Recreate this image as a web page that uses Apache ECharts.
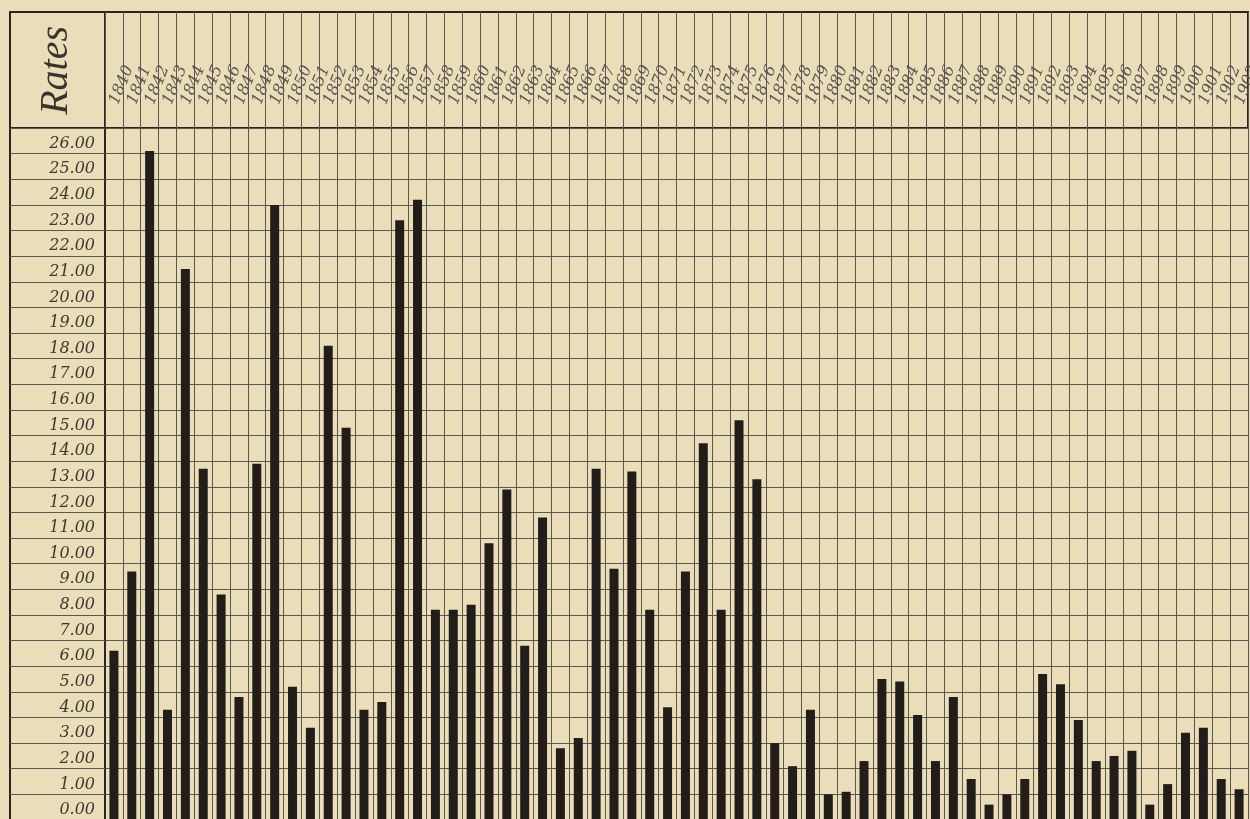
<!DOCTYPE html>
<html>
<head>
<meta charset="utf-8">
<script src="https://cdn.jsdelivr.net/npm/echarts@6/dist/echarts.min.js"></script>
<style>
  html, body { margin: 0; padding: 0; background: #e9deb9; }
  #chart { width: 1250px; height: 819px; }
</style>
</head>
<body>
<div id="chart"></div>
<script>
// years, one column each
const years = []
for (let y = 1840; y <= 1903; y++) years.push(String(y))

// rates
const rates = [
  6.6, 9.7, 26.1, 4.3, 21.5, 13.7, 8.8, 4.8, 13.9, 24.0,
  5.2, 3.6, 18.5, 15.3, 4.3, 4.6, 23.4, 24.2, 8.2, 8.2,
  8.4, 10.8, 12.9, 6.8, 11.8, 2.8, 3.2, 13.7, 9.8, 13.6,
  8.2, 4.4, 9.7, 14.7, 8.2, 15.6, 13.3, 3.0, 2.1, 4.3,
  1.0, 1.1, 2.3, 5.5, 5.4, 4.1, 2.3, 4.8, 1.6, 0.6,
  1.0, 1.6, 5.7, 5.3, 3.9, 2.3, 2.5, 2.7, 0.6, 1.4,
  3.4, 3.6, 1.6, 1.2
]

const rateMax = 27

const ink = '#2a2520'
const gridInk = '#5b574f'
const hand = '"DejaVu Serif", "Liberation Serif", serif'

let chart = echarts.init(document.getElementById('chart'))
chart.setOption({
  backgroundColor: '#e9deb9',
  animation: false,
  grid: [
    // main plot
    { left: 105, right: 2, top: 128, height: 692, outerBoundsMode: 'none' },
    // header with the years
    { left: 105, right: 2, top: 12, height: 116, show: true, borderColor: ink, borderWidth: 2, outerBoundsMode: 'none' },
    // header over the rates column
    { left: 10, width: 95, top: 12, height: 116, show: true, borderColor: ink, borderWidth: 2, outerBoundsMode: 'none' }
  ],
  xAxis: [
    {
      type: 'category', gridIndex: 0, position: 'top', data: years,
      axisLine: { show: true, lineStyle: { color: ink, width: 2 } },
      axisTick: { show: false },
      axisLabel: {
        interval: 0, rotate: 68, margin: 24,
        fontFamily: hand, fontStyle: 'italic', fontSize: 16, color: '#5a554e'
      },
      splitLine: { show: true, interval: 0, lineStyle: { color: gridInk, width: 1 } }
    },
    {
      type: 'category', gridIndex: 1, data: years,
      axisLine: { show: false }, axisTick: { show: false }, axisLabel: { show: false },
      splitLine: { show: true, interval: 0, lineStyle: { color: gridInk, width: 1 } }
    },
    { type: 'value', gridIndex: 2, show: false }
  ],
  yAxis: [
    {
      type: 'value', gridIndex: 0, min: 0, max: rateMax, interval: 1,
      axisLine: { show: true, lineStyle: { color: ink, width: 2 } },
      axisTick: { show: true, length: 95, lineStyle: { color: gridInk, width: 1 } },
      axisLabel: {
        margin: 10, verticalAlign: 'bottom', padding: [0, 0, 2, 0],
        fontFamily: hand, fontStyle: 'italic', fontSize: 16, color: '#3d3832',
        formatter: v => v >= rateMax ? '' : v.toFixed(2)
      },
      splitLine: { show: true, lineStyle: { color: gridInk, width: 1 } }
    },
    {
      // outer left edge of the rates column
      type: 'value', gridIndex: 0, min: 0, max: rateMax, position: 'left', offset: 95,
      axisLine: { show: true, lineStyle: { color: ink, width: 2 } },
      axisTick: { show: false }, axisLabel: { show: false }, splitLine: { show: false }
    },
    { type: 'value', gridIndex: 1, show: false },
    { type: 'value', gridIndex: 2, show: false }
  ],
  graphic: [
    {
      type: 'text', left: 36, top: 26, rotation: Math.PI / 2,
      style: {
        text: 'Rates', fontFamily: '"Liberation Serif", serif', fontStyle: 'italic',
        fontSize: 40, fill: '#3a342d'
      }
    }
  ],
  series: [
    {
      type: 'bar', xAxisIndex: 0, yAxisIndex: 0, data: rates,
      barWidth: 9, itemStyle: { color: '#221d18' }
    }
  ]
})
</script>
</body>
</html>
